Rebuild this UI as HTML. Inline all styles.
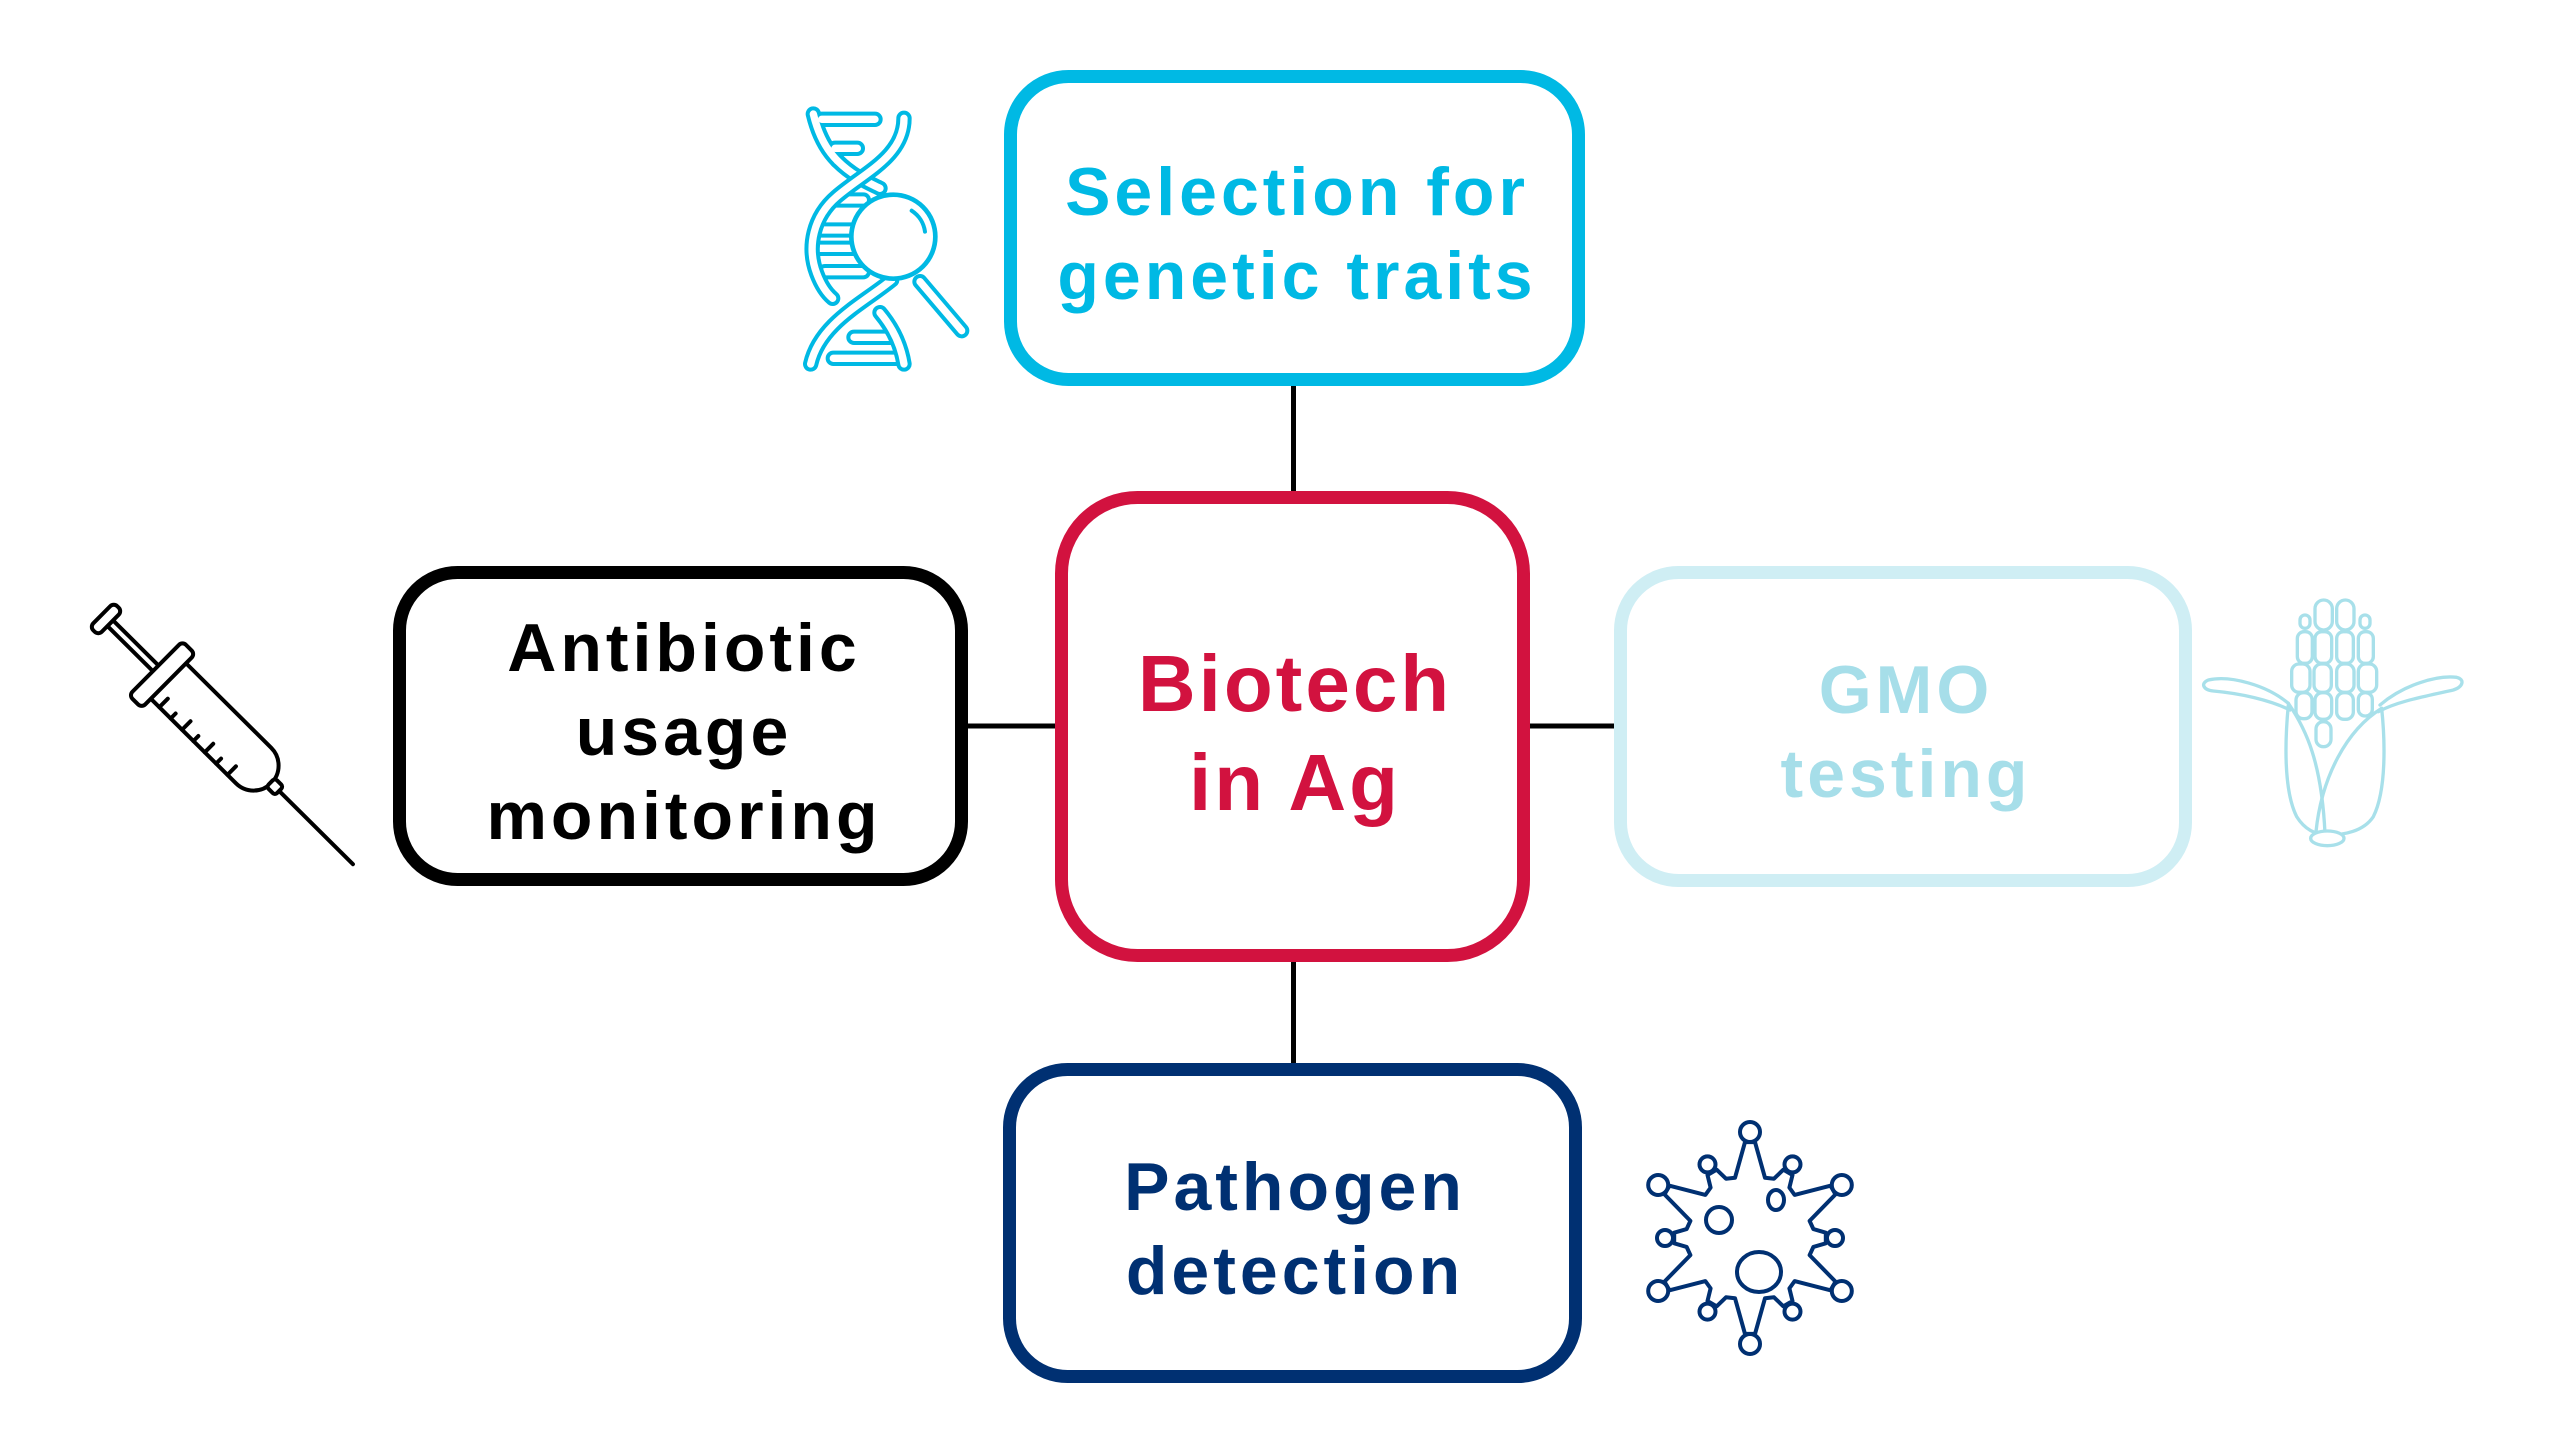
<!DOCTYPE html>
<html>
<head>
<meta charset="utf-8">
<style>
html,body{margin:0;padding:0;background:#ffffff;}
svg{display:block;}
text{font-family:"Liberation Sans",Arial,sans-serif;font-weight:bold;}
</style>
</head>
<body>
<svg width="2560" height="1440" viewBox="0 0 2560 1440" xmlns="http://www.w3.org/2000/svg">
<rect x="0" y="0" width="2560" height="1440" fill="#ffffff"/>

<!-- connectors -->
<g stroke="#000" stroke-width="5">
  <line x1="1293.5" y1="384" x2="1293.5" y2="494"/>
  <line x1="1293.5" y1="958" x2="1293.5" y2="1066"/>
  <line x1="965" y1="726" x2="1058" y2="726"/>
  <line x1="1527" y1="726" x2="1617" y2="726"/>
</g>

<!-- boxes -->
<g fill="#ffffff" stroke-width="13">
  <rect x="1010.5" y="76.5" width="568" height="303" rx="58" stroke="#00b9e4"/>
  <rect x="1061.5" y="497.5" width="462" height="458" rx="76" stroke="#d2123f"/>
  <rect x="399.5" y="572.5" width="562" height="307" rx="58" stroke="#000000"/>
  <rect x="1620.5" y="572.5" width="565" height="308" rx="58" stroke="#cfeef4"/>
  <rect x="1009.5" y="1069.5" width="566" height="307" rx="58" stroke="#003072"/>
</g>

<!-- texts -->
<g text-anchor="middle" font-size="68" letter-spacing="4">
  <text x="1297" y="215" fill="#00b9e4">Selection for</text>
  <text x="1297" y="299" fill="#00b9e4">genetic traits</text>
  <text x="684" y="671" fill="#000000">Antibiotic</text>
  <text x="684" y="755" fill="#000000">usage</text>
  <text x="684" y="839" fill="#000000">monitoring</text>
  <text x="1906" y="713" fill="#a6dee9">GMO</text>
  <text x="1906" y="797" fill="#a6dee9">testing</text>
  <text x="1295" y="1210" fill="#003072">Pathogen</text>
  <text x="1295" y="1294" fill="#003072">detection</text>
</g>
<g text-anchor="middle" font-size="80" letter-spacing="3">
  <text x="1295" y="711" fill="#d2123f">Biotech</text>
  <text x="1295" y="810" fill="#d2123f">in Ag</text>
</g>

<!-- DNA + magnifier icon -->
<g transform="translate(780,90) scale(0.33333)" fill="none" stroke-linecap="round" stroke-linejoin="round">
  <!-- strand X + rungs -->
  <g stroke="#00b9e4" stroke-width="46">
    <path d="M100,72 C115,135 140,180 172,212"/>
    <path d="M172,212 C220,260 270,280 300,295"/>
    <path d="M125,88 H285"/>
    <path d="M165,175 H232"/>
    <path d="M160,330 H250"/>
    <path d="M112,420 H240"/>
    <path d="M112,475 H240"/>
    <path d="M135,545 H250"/>
    <path d="M335,570 C250,640 120,700 92,822"/>
    <path d="M222,742 H340"/>
    <path d="M160,805 H365"/>
  </g>
  <g stroke="#ffffff" stroke-width="22">
    <path d="M100,72 C115,135 140,180 172,212"/>
    <path d="M172,212 C220,260 270,280 300,295"/>
    <path d="M125,88 H285"/>
    <path d="M165,175 H232"/>
    <path d="M160,330 H250"/>
    <path d="M112,420 H240"/>
    <path d="M112,475 H240"/>
    <path d="M135,545 H250"/>
    <path d="M335,570 C250,640 120,700 92,822"/>
    <path d="M222,742 H340"/>
    <path d="M160,805 H365"/>
  </g>
  <!-- strand Y -->
  <g>
    <path d="M372,85 C372,200 250,250 170,320 C100,380 80,470 110,550 C125,590 140,610 158,625" stroke="#00b9e4" stroke-width="46"/>
    <path d="M372,85 C372,200 250,250 170,320 C100,380 80,470 110,550 C125,590 140,610 158,625" stroke="#ffffff" stroke-width="22"/>
    <path d="M300,668 C335,710 362,760 372,822" stroke="#00b9e4" stroke-width="46"/>
    <path d="M300,668 C335,710 362,760 372,822" stroke="#ffffff" stroke-width="22"/>
  </g>
  <!-- magnifier -->
  <path d="M420,575 L545,722" stroke="#00b9e4" stroke-width="46"/>
  <path d="M420,575 L545,722" stroke="#ffffff" stroke-width="22"/>
  <circle cx="340" cy="440" r="126" fill="#ffffff" stroke="#00b9e4" stroke-width="14"/>
  <path d="M395,362 A 90 90 0 0 1 435,425" stroke="#00b9e4" stroke-width="12"/>
</g>

<!-- Syringe icon -->
<g transform="translate(106,619) rotate(44.8)" fill="#ffffff" stroke="#000" stroke-width="4" stroke-linejoin="round">
  <line x1="244" y1="0" x2="348" y2="0" stroke-linecap="round"/>
  <rect x="6" y="-4" width="68" height="8"/>
  <rect x="-6" y="-17" width="12" height="34" rx="5"/>
  <path d="M86,-25 H208 A25 25 0 0 1 208,25 H86 Z"/>
  <rect x="70" y="-38" width="18" height="76" rx="5"/>
  <rect x="232" y="-6" width="12" height="12" rx="3"/>
  <g fill="none" stroke-linecap="round">
    <line x1="100" y1="25" x2="100" y2="13"/>
    <line x1="116" y1="25" x2="116" y2="18"/>
    <line x1="132" y1="25" x2="132" y2="13"/>
    <line x1="148" y1="25" x2="148" y2="18"/>
    <line x1="164" y1="25" x2="164" y2="13"/>
    <line x1="180" y1="25" x2="180" y2="18"/>
    <line x1="196" y1="25" x2="196" y2="13"/>
  </g>
</g>

<!-- Corn icon -->
<g transform="translate(2190,590) scale(0.33333)" fill="none" stroke="#a8e0ea" stroke-width="10" stroke-linejoin="round" stroke-linecap="round">
  <rect x="375" y="30" width="52" height="90" rx="26"/>
  <rect x="440" y="30" width="52" height="90" rx="26"/>
  <rect x="330" y="75" width="30" height="40" rx="15"/>
  <rect x="510" y="75" width="30" height="40" rx="15"/>
  <rect x="322" y="125" width="45" height="95" rx="20"/>
  <rect x="375" y="125" width="50" height="95" rx="20"/>
  <rect x="440" y="125" width="50" height="95" rx="20"/>
  <rect x="505" y="125" width="45" height="95" rx="20"/>
  <rect x="305" y="222" width="55" height="85" rx="22"/>
  <rect x="372" y="222" width="52" height="85" rx="22"/>
  <rect x="440" y="222" width="52" height="85" rx="22"/>
  <rect x="505" y="222" width="55" height="85" rx="22"/>
  <rect x="318" y="308" width="48" height="78" rx="22"/>
  <rect x="375" y="308" width="50" height="80" rx="22"/>
  <rect x="440" y="308" width="50" height="80" rx="22"/>
  <rect x="505" y="308" width="42" height="70" rx="20"/>
  <rect x="378" y="395" width="45" height="75" rx="22"/>
  <!-- leaves -->
  <path d="M295,340 C230,285 120,255 55,270 C30,280 40,300 70,303 C150,310 240,330 300,360" fill="#ffffff"/>
  <path d="M570,345 C640,285 740,255 800,262 C825,268 820,290 790,300 C700,320 620,335 565,365" fill="#ffffff"/>
  <!-- husk -->
  <path d="M295,345 C285,450 280,600 320,680 C345,720 380,735 415,735 C460,735 520,725 550,680 C590,600 585,450 575,355"/>
  <path d="M295,340 C350,420 395,520 405,730"/>
  <path d="M575,355 C470,420 395,560 378,725"/>
  <ellipse cx="412" cy="745" rx="50" ry="22" fill="#ffffff"/>
</g>

<!-- Virus icon -->
<g transform="translate(1750,1238)" fill="#ffffff" stroke="#003072" stroke-width="4" stroke-linejoin="round">
  <path d="M-15.0,-60.2 L-5.0,-95.9 L5.0,-95.9 L15.0,-60.2 L24.0,-59.3 L33.3,-68.3 L42.5,-63.0 L39.4,-50.4 L44.6,-43.1 L80.5,-52.3 L85.5,-43.6 L59.6,-17.1 L63.4,-8.9 L75.8,-5.3 L75.8,5.3 L63.4,8.9 L59.6,17.1 L85.5,43.6 L80.5,52.3 L44.6,43.1 L39.4,50.4 L42.5,63.0 L33.3,68.3 L24.0,59.3 L15.0,60.2 L5.0,95.9 L-5.0,95.9 L-15.0,60.2 L-24.0,59.3 L-33.3,68.3 L-42.5,63.0 L-39.4,50.4 L-44.6,43.1 L-80.5,52.3 L-85.5,43.6 L-59.6,17.1 L-63.4,8.9 L-75.8,5.3 L-75.8,-5.3 L-63.4,-8.9 L-59.6,-17.1 L-85.5,-43.6 L-80.5,-52.3 L-44.6,-43.1 L-39.4,-50.4 L-42.5,-63.0 L-33.3,-68.3 L-24.0,-59.3 Z"/>
  <circle cx="0" cy="-106" r="10"/>
  <circle cx="91.8" cy="-53" r="10"/>
  <circle cx="91.8" cy="53" r="10"/>
  <circle cx="0" cy="106" r="10"/>
  <circle cx="-91.8" cy="53" r="10"/>
  <circle cx="-91.8" cy="-53" r="10"/>
  <circle cx="42.5" cy="-73.6" r="8"/>
  <circle cx="85" cy="0" r="8"/>
  <circle cx="42.5" cy="73.6" r="8"/>
  <circle cx="-42.5" cy="73.6" r="8"/>
  <circle cx="-85" cy="0" r="8"/>
  <circle cx="-42.5" cy="-73.6" r="8"/>
  <ellipse cx="-31" cy="-18" rx="13" ry="13"/>
  <ellipse cx="26" cy="-38" rx="8" ry="10"/>
  <ellipse cx="9" cy="34" rx="22" ry="20"/>
</g>
</svg>
</body>
</html>
